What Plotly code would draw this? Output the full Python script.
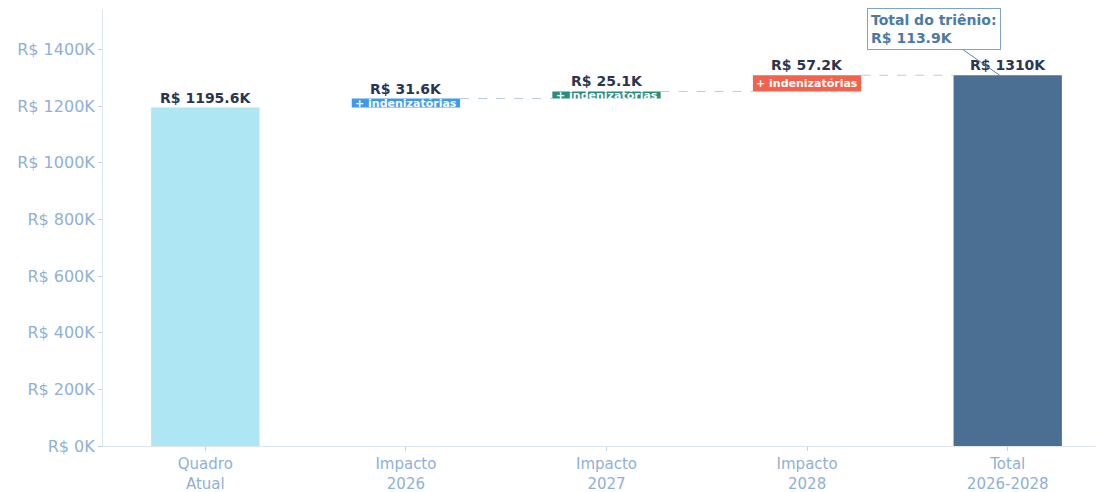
import plotly.graph_objects as go

categories = ["Quadro<br>Atual", "Impacto<br>2026", "Impacto<br>2027", "Impacto<br>2028", "Total<br>2026-2028"]
start_value = 1195.6
increments = [31.6, 25.1, 57.2]
total_label = "R$ 1310K"
value_labels = ["R$ 1195.6K", "R$ 31.6K", "R$ 25.1K", "R$ 57.2K", total_label]
inner_labels = ["+ indenizatórias", "+ indenizatórias", "+ indenizatórias"]
y_ticks = [0, 200, 400, 600, 800, 1000, 1200, 1400]
colors = ["#aee6f4", "#3d9be9", "#2a8c7e", "#f3624c", "#4b6f93"]

total = start_value + sum(increments)
bases = [0]
heights = [start_value]
running = start_value
for inc in increments:
    bases.append(running)
    heights.append(inc)
    running += inc
bases.append(0)
heights.append(total)
xs = list(range(len(categories)))

fig = go.Figure()
fig.add_trace(go.Bar(
    x=xs, y=heights, base=bases, marker=dict(color=colors, line=dict(width=0)),
    width=0.54, hoverinfo="skip", showlegend=False))

# dashed connectors (from each impact bar to the next bar)
for i in range(1, len(xs) - 1):
    top = bases[i] + heights[i]
    fig.add_shape(type="line", x0=xs[i] + 0.27, x1=xs[i + 1] - 0.27, y0=top, y1=top,
                  line=dict(color="#b8cde0", width=1, dash="dash"))

# value labels
for i in range(len(xs)):
    top = bases[i] + heights[i]
    fig.add_annotation(x=xs[i], y=top, text="<b>" + value_labels[i] + "</b>", showarrow=False,
                       yanchor="bottom", yshift=0,
                       font=dict(family="DejaVu Sans", size=14, color="#2b3550"))

# inner labels
for k, lab in enumerate(inner_labels):
    i = k + 1
    mid = bases[i] + heights[i] / 2
    fig.add_annotation(x=xs[i], y=mid, text="<b>" + lab + "</b>", showarrow=False,
                       font=dict(family="DejaVu Sans", size=11, color="white"))

# total annotation
fig.add_annotation(x=3.96, y=total, xref="x", yref="y",
                   text="<b>Total do triênio:<br>R$ 113.9K</b>", align="left",
                   showarrow=True, arrowhead=0, arrowwidth=1, arrowcolor="#5b86b0",
                   ax=-66, ay=-46,
                   font=dict(family="DejaVu Sans", size=14, color="#4a7aa8"),
                   bordercolor="#7fa3c8", borderwidth=1, borderpad=3, bgcolor="white")

# page body adds an 8px offset, so the figure is sized to fit the window
fig.update_layout(
    width=1096, height=484,
    margin=dict(l=95, r=4, t=2, b=46),
    plot_bgcolor="white", paper_bgcolor="white",
    bargap=0.4,
)
fig.update_xaxes(
    range=[-0.51, 4.46], tickmode="array", tickvals=xs, ticktext=categories,
    showgrid=False, zeroline=False, showline=True, linecolor="#dde6ef", linewidth=1,
    ticks="outside", ticklen=4, tickcolor="#c6d3e1", automargin=False,
    tickfont=dict(family="DejaVu Sans", size=15, color="#8fb0d8"))
fig.update_yaxes(
    range=[0, 1540], tickmode="array", tickvals=y_ticks,
    ticktext=["R$ %dK" % v for v in y_ticks],
    showgrid=False, zeroline=False, showline=True, linecolor="#dde6ef", linewidth=1,
    ticks="outside", ticklen=4, tickcolor="#c6d3e1", automargin=False,
    tickfont=dict(family="DejaVu Sans", size=16, color="#8fb0d8"))

fig.write_html("out.html")
